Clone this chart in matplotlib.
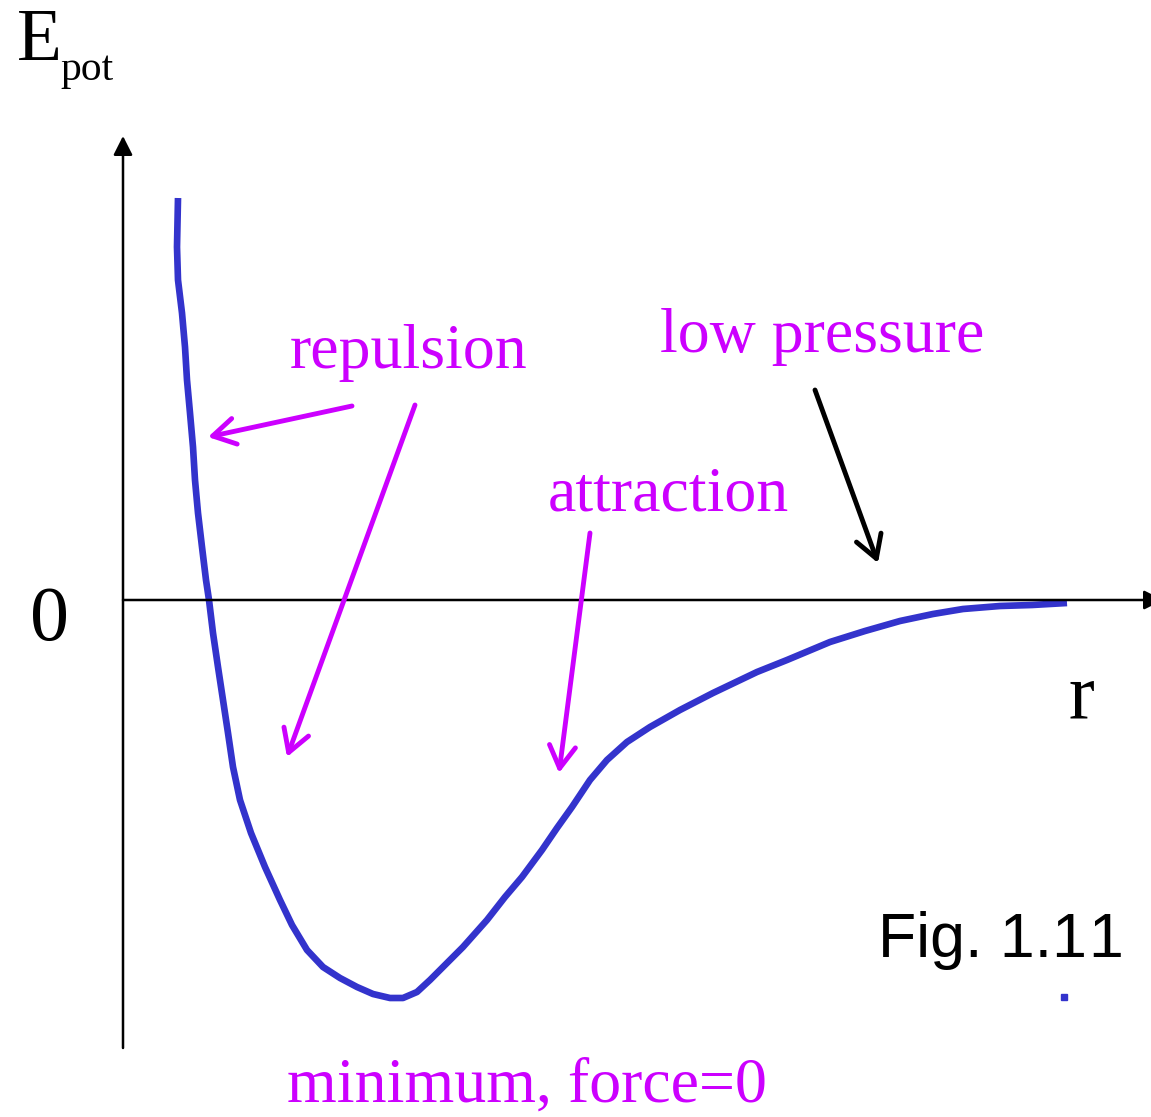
import matplotlib
matplotlib.use('Agg')
import matplotlib.pyplot as plt

# 势能曲线 (r, E_pot)，从图上读出的点
r_vals = [0.55, 0.54, 0.55, 0.59, 0.62, 0.64, 0.67, 0.70, 0.72, 0.75, 0.79,
          0.83, 0.86, 0.90, 0.95, 1.00, 1.05, 1.10, 1.17, 1.28, 1.42, 1.57,
          1.69, 1.84, 2.00, 2.17, 2.34, 2.50, 2.67, 2.80, 2.94, 3.07, 3.24,
          3.40, 3.64, 3.82, 3.99, 4.19, 4.34, 4.49, 4.67, 4.84, 5.04, 5.27,
          5.57, 5.90, 6.34, 6.64, 7.07, 7.42, 7.77, 8.10, 8.40, 8.77, 9.09, 9.44]
e_vals = [4.02, 3.53, 3.20, 2.87, 2.53, 2.20, 1.87, 1.53, 1.20, 0.87, 0.53,
          0.20, 0.00, -0.33, -0.67, -1.00, -1.33, -1.67, -2.00, -2.33, -2.67, -3.00,
          -3.25, -3.50, -3.67, -3.78, -3.87, -3.94, -3.98, -3.98, -3.92, -3.80, -3.63,
          -3.47, -3.20, -2.97, -2.77, -2.50, -2.28, -2.07, -1.80, -1.60, -1.42, -1.27,
          -1.10, -0.93, -0.72, -0.60, -0.42, -0.31, -0.21, -0.14, -0.09, -0.06, -0.05, -0.03]

# 标注文字和箭头 (文字, 文字位置, 箭头起点, 箭头终点)
labels = ['repulsion', 'low pressure', 'attraction', 'minimum, force=0']
label_pos = [(1.67, 2.32), (5.37, 2.48), (4.25, 0.90), (1.64, -5.02)]
arrow_from = [(2.29, 1.94), (2.92, 1.95), (4.67, 0.67), (6.92, 2.10)]
arrow_to = [(0.85, 1.63), (1.64, -1.57), (4.36, -1.73), (7.55, 0.37)]
arrow_colors = ['#CC00FF', '#CC00FF', '#CC00FF', 'black']

magenta = '#CC00FF'
blue = '#3333CC'
serif = 'Liberation Serif'

fig = plt.figure(figsize=(11.51, 11.17), dpi=100)
ax = fig.add_axes([0, 0, 1, 1])
ax.set_xlim(-1.23, 10.28)
ax.set_ylim(-5.17, 6.00)
ax.axis('off')

# 坐标轴（带实心箭头）
axis_style = '-|>,head_length=11.5,head_width=5.8'
ax.annotate('', xy=(0, 4.64), xytext=(0, -4.48), annotation_clip=False,
            arrowprops=dict(arrowstyle=axis_style, lw=1.8, color='black',
                            shrinkA=0, shrinkB=0, mutation_scale=1))
ax.annotate('', xy=(10.40, 0), xytext=(0, 0), annotation_clip=False,
            arrowprops=dict(arrowstyle=axis_style, lw=1.8, color='black',
                            shrinkA=0, shrinkB=0, mutation_scale=1))

# 势能曲线
ax.plot(r_vals, e_vals, color=blue, lw=4.8, solid_capstyle='butt', solid_joinstyle='round')
ax.plot([9.41], [-3.97], marker='s', ms=4.3, color=blue, mec=blue)

# 轴标签
ax.text(-1.06, 5.40, 'E', family=serif, fontsize=53, color='black', va='baseline')
ax.text(-0.63, 5.20, 'pot', family=serif, fontsize=30, color='black', va='baseline')
ax.text(-0.93, -0.40, '0', family=serif, fontsize=56, color='black', va='baseline')
ax.text(9.45, -1.17, 'r', family=serif, fontsize=56, color='black', va='baseline')

# 文字标注
for txt, (x, y) in zip(labels, label_pos):
    ax.text(x, y, txt, family=serif, fontsize=46, color=magenta, va='baseline')

# 空心箭头
for start, end, c in zip(arrow_from, arrow_to, arrow_colors):
    ax.annotate('', xy=end, xytext=start,
                arrowprops=dict(arrowstyle='->,head_length=16,head_width=9.4', lw=3.5,
                                color=c, shrinkA=0, shrinkB=0, mutation_scale=1))

# 图号（最后的 "1" 单独放，避免字距挤在一起）
ax.text(7.55, -3.57, 'Fig. 1.1', family='Liberation Sans', fontsize=45,
        color='black', va='baseline')
ax.text(9.65, -3.57, '1', family='Liberation Sans', fontsize=45,
        color='black', va='baseline')

fig.savefig('out.png', dpi=100, facecolor='white')
